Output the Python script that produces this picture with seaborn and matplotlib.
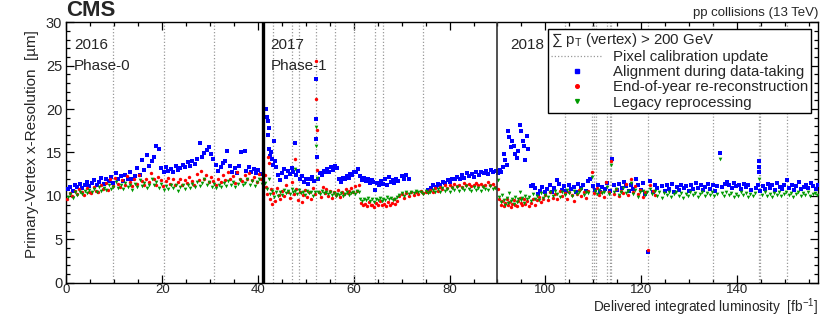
import matplotlib
matplotlib.use("Agg")
import matplotlib.pyplot as plt
from matplotlib.lines import Line2D
from matplotlib.ticker import MultipleLocator
import pandas as pd
import seaborn as sns

# resolution vs. delivered lumi, (fb^-1, um)
align_2016 = [(0.3, 10.8), (0.8, 11.0), (1.3, 10.6), (1.8, 11.2), (2.3, 11.0), (2.8, 11.4), (3.3, 10.9), (3.8, 11.3),
              (4.3, 11.6), (4.8, 11.1), (5.3, 11.5), (5.8, 11.8), (6.3, 11.3), (6.8, 11.6), (7.3, 12.1), (7.8, 11.4),
              (8.3, 11.9), (8.8, 11.7), (9.3, 12.2), (9.8, 11.5), (10.3, 12.6), (10.8, 11.9), (11.3, 12.3), (11.8, 11.7),
              (12.3, 12.4), (12.8, 12.0), (13.3, 12.8), (13.8, 11.9), (14.3, 12.3), (14.8, 13.2), (15.3, 12.4), (15.8, 14.1),
              (16.3, 13.0), (16.8, 14.7), (17.3, 13.4), (17.8, 14.0), (18.3, 14.5), (18.8, 15.7), (19.3, 15.4), (19.8, 13.2),
              (20.3, 12.8), (20.8, 13.3), (21.3, 12.9), (21.8, 13.1), (22.3, 12.7), (22.8, 13.4), (23.3, 13.0), (23.8, 13.2),
              (24.3, 13.6), (24.8, 13.3), (25.3, 13.9), (25.8, 13.5), (26.3, 14.0), (26.8, 13.7), (27.3, 14.3), (27.8, 16.1),
              (28.3, 14.5), (28.8, 14.9), (29.3, 15.3), (29.7, 15.6), (30.2, 14.8), (30.7, 14.2), (31.2, 13.6), (31.7, 12.9),
              (32.2, 13.3), (32.7, 13.8), (33.2, 14.0), (33.6, 15.2), (34.1, 13.5), (34.6, 12.8), (35.1, 13.2), (35.6, 12.6),
              (36.1, 13.4), (36.4, 15.0), (37.2, 15.2), (37.6, 12.9), (38.1, 13.3), (38.6, 12.7), (39.1, 13.1), (39.6, 12.6),
              (40.1, 13.0), (40.6, 12.5)]
align_2017 = [(41.6, 20.0), (41.8, 19.1), (42.0, 18.6), (42.2, 17.8), (42.1, 17.0), (42.4, 15.4), (42.6, 14.6), (42.8, 15.0),
              (43.0, 14.2), (43.2, 13.6), (43.4, 16.3), (43.6, 14.0), (43.8, 13.3), (44.2, 12.4), (44.6, 11.8), (45.0, 12.6),
              (45.4, 13.1), (45.8, 12.2), (46.2, 12.9), (46.6, 12.5), (47.0, 13.2), (47.4, 12.7), (47.7, 16.1), (48.0, 12.4),
              (48.4, 12.9), (48.8, 11.9), (49.2, 12.3), (49.6, 11.6), (50.0, 12.0), (50.4, 11.4), (50.8, 11.9), (51.2, 12.2),
              (51.6, 11.7), (52.2, 23.4), (52.2, 18.9), (52.2, 16.6), (52.3, 14.5), (52.5, 12.0), (52.9, 12.6), (53.3, 12.4),
              (53.7, 12.9), (54.1, 12.7), (54.5, 13.1), (54.9, 12.8), (55.3, 13.3), (55.7, 13.0), (56.1, 13.5), (56.5, 13.2),
              (56.9, 12.0), (57.3, 11.6), (57.7, 12.1), (58.1, 11.9), (58.5, 12.3), (58.9, 12.1), (59.3, 12.5), (59.7, 12.4),
              (60.1, 12.8), (60.5, 12.7), (60.9, 13.1), (61.3, 12.3), (61.7, 11.8), (62.1, 12.1), (62.5, 11.7), (62.9, 11.9),
              (63.3, 11.5), (63.7, 11.8), (64.1, 11.6), (64.5, 10.7), (64.9, 11.5), (65.3, 11.2), (65.7, 11.7), (66.1, 11.4),
              (66.5, 11.9), (66.9, 11.3), (67.3, 12.2), (67.7, 11.6), (68.1, 11.8), (68.5, 11.5), (68.9, 12.0), (69.3, 11.7),
              (70.0, 12.3), (70.5, 11.9), (71.0, 12.4), (71.5, 12.0), (75.6, 10.7), (76.1, 10.9), (76.6, 11.2), (77.1, 11.0),
              (77.6, 11.4), (78.1, 11.3), (78.6, 11.6), (79.1, 11.5), (79.6, 11.8), (80.1, 11.6), (80.6, 12.0), (81.1, 11.9),
              (81.6, 12.2), (82.1, 12.0), (82.6, 12.4), (83.1, 12.1), (83.6, 12.6), (84.1, 12.3), (84.6, 12.5), (85.1, 12.2),
              (85.6, 12.7), (86.1, 12.4), (86.6, 12.8), (87.1, 12.6), (87.6, 12.9), (88.1, 12.5), (88.6, 13.0), (89.1, 12.7),
              (89.6, 12.9)]
align_2018 = [(90.2, 12.6), (90.5, 13.0), (90.8, 12.8), (91.1, 13.3), (91.3, 14.8), (91.6, 14.1), (92.0, 13.6), (92.3, 17.5),
              (92.5, 16.8), (92.8, 15.6), (93.1, 16.3), (93.4, 15.7), (93.7, 14.8), (94.0, 14.4), (94.3, 15.2), (94.8, 18.2),
              (95.0, 17.5), (95.3, 16.3), (95.6, 15.7), (95.8, 14.1), (96.1, 16.9), (96.4, 15.4), (96.9, 11.1), (97.4, 11.3),
              (97.9, 10.9), (98.4, 10.2), (98.9, 10.6), (99.4, 11.0), (99.9, 10.4), (100.4, 10.8), (100.9, 11.2), (101.4, 10.5),
              (101.9, 10.9), (102.4, 11.8), (102.9, 11.4), (103.4, 10.7), (103.9, 11.1), (104.4, 10.6), (104.9, 11.3),
              (105.4, 10.8), (105.9, 11.0), (106.4, 10.5), (106.9, 11.4), (107.4, 10.9), (107.9, 11.2), (108.4, 10.6),
              (108.9, 11.7), (109.4, 12.0), (109.9, 11.1), (110.4, 10.7), (110.9, 11.3), (111.4, 10.5), (111.9, 11.0),
              (112.4, 10.8), (112.9, 11.5), (113.4, 10.6), (113.9, 14.3), (114.4, 11.2), (114.9, 10.7), (115.4, 11.4),
              (115.9, 10.9), (116.4, 11.6), (116.9, 11.1), (117.4, 10.6), (117.9, 11.3), (118.4, 10.8), (118.9, 11.9),
              (119.4, 11.2), (119.9, 10.7), (120.4, 11.5), (120.9, 10.2), (121.5, 3.5), (121.9, 11.7), (122.4, 10.5),
              (122.9, 11.3), (123.4, 10.9), (124.4, 11.1), (124.9, 10.6), (125.4, 11.2), (125.9, 10.8), (126.4, 11.4),
              (126.9, 10.5), (127.4, 11.0), (127.9, 10.7), (128.4, 11.3), (128.9, 10.9), (129.4, 11.1), (129.9, 10.6),
              (130.4, 11.2), (130.9, 10.8), (131.4, 11.5), (131.9, 10.9), (132.4, 11.3), (132.9, 10.7), (133.4, 11.0),
              (133.9, 11.4), (134.4, 10.8), (134.9, 11.2), (135.4, 10.6), (135.9, 11.1), (136.5, 14.9), (136.9, 11.0),
              (137.4, 11.4), (137.9, 11.6), (138.4, 11.2), (138.9, 10.9), (139.4, 11.5), (139.9, 11.1), (140.4, 11.3),
              (140.9, 10.8), (141.4, 11.4), (141.9, 11.0), (142.4, 11.2), (142.9, 10.7), (143.9, 10.9), (144.4, 11.3),
              (144.6, 14.0), (144.6, 13.3), (144.7, 12.7), (144.9, 10.6), (145.4, 11.1), (145.9, 10.8), (146.4, 11.4),
              (146.9, 10.9), (147.4, 11.2), (147.9, 10.7), (148.4, 11.5), (148.9, 11.0), (149.4, 10.8), (149.9, 11.3),
              (150.4, 11.8), (150.9, 10.9), (151.4, 11.2), (151.9, 10.7), (152.4, 11.1), (152.9, 11.6), (153.4, 10.8),
              (153.9, 11.0), (154.4, 11.3), (154.9, 10.9), (155.4, 11.5), (155.9, 11.1), (156.4, 10.8), (156.9, 11.2)]

eoy_2016 = [(0.2, 9.6), (0.7, 10.3), (1.2, 10.0), (1.7, 10.6), (2.2, 10.2), (2.7, 10.8), (3.2, 10.4), (3.7, 10.1),
            (4.2, 10.9), (4.7, 10.5), (5.2, 10.3), (5.7, 11.0), (6.2, 10.6), (6.7, 10.4), (7.2, 11.2), (7.7, 10.8),
            (8.2, 11.5), (8.7, 10.7), (9.2, 11.9), (9.7, 11.1), (10.2, 12.1), (10.7, 11.4), (11.2, 11.0), (11.7, 11.8),
            (12.2, 11.3), (12.7, 12.3), (13.2, 11.6), (13.7, 11.1), (14.2, 11.9), (14.7, 11.4), (15.2, 12.4), (15.7, 11.7),
            (16.2, 11.2), (16.7, 12.0), (17.2, 11.6), (17.7, 12.6), (18.2, 11.9), (18.7, 11.3), (19.2, 12.2), (19.7, 11.8),
            (20.2, 11.1), (20.7, 11.7), (21.2, 12.1), (21.7, 11.4), (22.2, 11.9), (22.7, 11.2), (23.2, 11.6), (23.7, 12.0),
            (24.2, 11.3), (24.7, 11.8), (25.2, 11.5), (25.7, 12.2), (26.2, 11.7), (26.7, 11.2), (27.2, 12.5), (27.7, 11.8),
            (28.2, 12.9), (28.7, 11.9), (29.2, 12.4), (29.7, 11.6), (30.2, 12.2), (30.7, 11.7), (31.2, 11.3), (31.7, 12.0),
            (32.2, 11.6), (32.7, 12.4), (33.2, 11.8), (33.7, 12.7), (34.2, 11.9), (34.7, 12.3), (35.2, 11.5), (35.7, 12.8),
            (36.2, 12.0), (36.7, 11.7), (37.2, 12.4), (37.7, 11.9), (38.2, 12.6), (38.7, 11.8), (39.2, 12.2), (39.7, 11.6),
            (40.2, 12.5), (40.7, 11.9)]
eoy_2017 = [(41.5, 12.4), (41.7, 11.0), (41.9, 10.2), (42.1, 14.5), (42.3, 13.8), (42.5, 9.6), (42.7, 10.8), (42.9, 9.1),
            (43.1, 10.3), (43.5, 9.4), (43.9, 10.9), (44.3, 10.1), (44.7, 9.7), (45.1, 10.6), (45.5, 10.0), (45.9, 11.2),
            (46.3, 10.4), (46.7, 9.8), (47.1, 11.6), (47.5, 10.2), (47.7, 14.3), (47.9, 10.8), (48.3, 9.5), (48.7, 10.5),
            (49.1, 9.3), (49.5, 10.1), (49.9, 10.7), (50.3, 9.9), (50.7, 10.4), (51.1, 9.7), (51.5, 10.9), (51.9, 10.2),
            (52.2, 25.5), (52.2, 21.2), (52.3, 17.6), (52.4, 13.0), (52.7, 10.5), (53.1, 9.9), (53.5, 11.0), (53.9, 10.3),
            (54.3, 10.8), (54.7, 10.0), (55.1, 10.6), (55.5, 9.8), (55.9, 10.4), (56.3, 10.1), (56.7, 10.7), (57.1, 9.9),
            (57.5, 10.5), (57.9, 10.2), (58.3, 10.8), (58.7, 10.3), (59.1, 10.6), (59.5, 10.9), (59.9, 10.4), (60.3, 11.1),
            (60.7, 10.6), (61.1, 11.3), (61.5, 9.2), (61.9, 8.9), (62.3, 9.1), (62.7, 8.8), (63.1, 9.3), (63.5, 8.9),
            (63.9, 9.0), (64.3, 8.7), (64.7, 9.2), (65.1, 8.9), (65.5, 9.4), (65.9, 9.0), (66.3, 9.1), (66.7, 8.8),
            (67.1, 9.3), (67.5, 9.0), (67.9, 9.2), (68.3, 9.6), (68.7, 9.1), (69.1, 9.4), (69.5, 10.0), (70.0, 10.2),
            (70.5, 9.8), (71.0, 10.3), (71.5, 10.0), (72.0, 10.4), (72.5, 10.1), (73.0, 10.5), (73.5, 10.2), (74.0, 10.6),
            (74.5, 10.3), (75.0, 10.5), (75.5, 10.4), (76.0, 10.7), (76.5, 10.5), (77.0, 10.9), (77.5, 10.6), (78.0, 11.0),
            (78.5, 10.8), (79.0, 11.2), (79.5, 10.9), (80.0, 11.3), (80.5, 11.0), (81.0, 11.4), (81.5, 11.1), (82.0, 11.3),
            (82.5, 11.0), (83.0, 11.5), (83.5, 11.2), (84.0, 11.4), (84.5, 11.1), (85.0, 11.3), (85.5, 11.5), (86.0, 11.2),
            (86.5, 11.4), (87.0, 11.1), (87.5, 11.3), (88.0, 11.6), (88.5, 11.2), (89.0, 11.4), (89.5, 11.0)]
eoy_2018 = [(90.1, 10.8), (90.4, 9.6), (90.7, 9.0), (91.0, 9.4), (91.3, 8.8), (91.6, 9.2), (91.9, 9.7), (92.2, 8.9),
            (92.5, 9.3), (92.8, 8.7), (93.1, 9.1), (93.4, 9.5), (93.7, 9.0), (94.0, 8.8), (94.3, 9.4), (94.6, 9.8),
            (94.9, 9.2), (95.2, 8.9), (95.5, 9.6), (95.8, 9.1), (96.2, 9.4), (96.6, 8.8), (97.0, 9.2), (97.4, 9.6),
            (97.8, 9.0), (98.2, 9.5), (98.6, 9.9), (99.0, 9.3), (99.5, 9.7), (100.0, 10.1), (100.5, 9.5), (101.0, 10.4),
            (101.5, 9.8), (102.0, 10.2), (102.5, 9.6), (103.0, 10.6), (103.5, 10.0), (104.0, 10.3), (104.5, 9.7),
            (105.0, 10.5), (105.5, 10.1), (106.0, 9.4), (106.5, 10.2), (107.0, 10.7), (107.5, 10.0), (108.0, 10.4),
            (108.5, 9.8), (109.0, 10.6), (109.8, 12.8), (110.2, 10.3), (110.7, 10.9), (111.2, 10.1), (111.7, 10.5),
            (112.2, 9.9), (112.7, 11.6), (113.2, 10.4), (113.8, 14.0), (114.3, 10.2), (114.8, 10.8), (115.3, 10.0),
            (115.8, 10.6), (116.3, 10.3), (116.8, 11.4), (117.3, 10.1), (117.8, 12.0), (118.3, 10.5), (118.8, 11.1),
            (119.3, 10.2), (119.8, 10.7), (120.3, 9.9), (120.8, 10.4), (121.5, 3.8), (121.9, 11.3), (122.4, 10.6),
            (122.9, 10.1)]

legacy_2016 = [(0.3, 9.9), (0.8, 10.2), (1.3, 9.8), (1.8, 10.4), (2.3, 10.1), (2.8, 10.5), (3.3, 10.2), (3.8, 10.6),
               (4.3, 10.3), (4.8, 10.7), (5.3, 10.4), (5.8, 10.8), (6.3, 10.5), (6.8, 11.0), (7.3, 10.6), (7.8, 10.9),
               (8.3, 10.7), (8.8, 11.3), (9.3, 10.8), (9.8, 11.0), (10.3, 11.6), (10.8, 10.9), (11.3, 11.3), (11.8, 10.8),
               (12.3, 11.5), (12.8, 11.0), (13.3, 11.2), (13.8, 10.7), (14.3, 11.4), (14.8, 11.0), (15.3, 11.8), (15.8, 11.1),
               (16.3, 11.5), (16.8, 10.9), (17.3, 11.3), (17.8, 12.0), (18.3, 11.2), (18.8, 11.6), (19.3, 10.9), (19.8, 11.4),
               (20.3, 10.7), (20.8, 11.1), (21.3, 10.8), (21.8, 11.3), (22.3, 10.9), (22.8, 11.2), (23.3, 10.6), (23.8, 11.0),
               (24.3, 11.3), (24.8, 10.8), (25.3, 11.2), (25.8, 10.9), (26.3, 11.4), (26.8, 11.0), (27.3, 11.6), (27.8, 11.1),
               (28.3, 11.5), (28.8, 11.9), (29.3, 11.2), (29.8, 11.6), (30.3, 11.0), (30.8, 11.4), (31.3, 10.9), (31.8, 11.3),
               (32.3, 11.0), (32.8, 11.5), (33.3, 11.1), (33.8, 11.7), (34.3, 11.2), (34.8, 11.6), (35.3, 11.0), (35.8, 11.4),
               (36.3, 11.8), (36.8, 11.2), (37.3, 11.5), (37.8, 11.9), (38.3, 11.3), (38.8, 11.7), (39.3, 11.1), (39.8, 11.6),
               (40.3, 11.9), (40.8, 11.4)]
legacy_2017 = [(41.5, 11.5), (41.8, 10.8), (42.2, 11.9), (42.6, 10.2), (43.0, 10.6), (43.4, 9.9), (43.8, 10.4), (44.2, 10.0),
               (44.6, 10.5), (45.0, 10.1), (45.4, 10.7), (45.8, 10.3), (46.2, 10.6), (46.6, 10.2), (47.0, 10.8), (47.4, 10.4),
               (47.7, 13.1), (47.8, 10.6), (48.2, 10.2), (48.6, 10.7), (49.0, 10.3), (49.4, 10.5), (49.8, 10.1), (50.2, 10.6),
               (50.6, 10.3), (51.0, 10.4), (51.4, 10.0), (51.8, 10.5), (52.2, 17.9), (52.2, 15.8), (52.3, 12.1), (52.6, 10.4),
               (53.0, 10.2), (53.4, 10.6), (53.8, 10.3), (54.2, 10.5), (54.6, 10.2), (55.0, 10.4), (55.4, 10.1), (55.8, 10.3),
               (56.2, 10.0), (56.6, 10.2), (57.0, 10.1), (57.4, 10.3), (57.8, 10.0), (58.2, 10.2), (58.6, 10.4), (59.0, 10.1),
               (59.4, 10.3), (59.8, 10.5), (60.2, 10.2), (60.6, 10.6), (61.0, 10.4), (61.4, 9.6), (61.8, 9.4), (62.2, 9.7),
               (62.6, 9.5), (63.0, 9.8), (63.4, 9.4), (63.8, 9.6), (64.2, 9.3), (64.6, 9.7), (65.0, 9.5), (65.4, 9.8),
               (65.8, 9.4), (66.2, 9.6), (66.6, 9.5), (67.0, 9.9), (67.4, 9.6), (67.8, 9.8), (68.2, 9.5), (68.6, 9.7),
               (69.0, 9.9), (69.5, 10.1), (70.0, 10.3), (70.5, 10.0), (71.0, 10.4), (71.5, 10.2), (72.0, 10.5), (72.5, 10.3),
               (73.0, 10.6), (73.5, 10.4), (74.0, 10.5), (74.5, 10.2), (75.0, 10.6), (75.5, 10.3), (76.0, 10.5), (76.5, 10.7),
               (77.0, 10.4), (77.5, 10.8), (78.0, 10.5), (78.5, 10.9), (79.0, 10.6), (79.5, 10.8), (80.0, 10.5), (80.5, 10.9),
               (81.0, 10.7), (81.5, 11.0), (82.0, 10.6), (82.5, 10.9), (83.0, 10.7), (83.5, 11.1), (84.0, 10.8), (84.5, 10.6),
               (85.0, 11.0), (85.5, 10.7), (86.0, 10.9), (86.5, 10.6), (87.0, 11.0), (87.5, 10.8), (88.0, 10.7), (88.5, 11.1),
               (89.0, 10.8), (89.5, 10.9)]
legacy_2018 = [(90.1, 11.8), (90.4, 9.9), (90.7, 9.3), (91.0, 10.1), (91.3, 9.5), (91.6, 9.0), (91.9, 9.8), (92.2, 9.2),
               (92.5, 10.3), (92.8, 9.4), (93.1, 9.7), (93.4, 9.1), (93.7, 9.9), (94.0, 9.3), (94.3, 9.6), (94.6, 10.4),
               (94.9, 9.5), (95.2, 9.8), (95.5, 9.2), (95.8, 10.0), (96.2, 9.6), (96.6, 9.9), (97.0, 9.4), (97.4, 10.2),
               (97.8, 9.7), (98.2, 10.0), (98.6, 9.5), (99.0, 10.3), (99.5, 9.8), (100.0, 10.1), (100.5, 9.9), (101.0, 10.4),
               (101.5, 10.0), (102.0, 10.6), (102.5, 10.2), (103.0, 9.9), (103.5, 10.5), (104.0, 10.1), (104.5, 10.7),
               (105.0, 10.3), (105.5, 10.0), (106.0, 10.6), (106.5, 10.2), (107.0, 10.4), (107.5, 10.8), (108.0, 10.1),
               (108.5, 10.5), (109.0, 10.3), (109.8, 12.2), (110.3, 10.6), (110.8, 10.2), (111.3, 10.7), (111.8, 10.3),
               (112.3, 10.5), (112.8, 11.0), (113.3, 10.2), (113.8, 13.6), (114.3, 10.4), (114.8, 10.8), (115.3, 10.1),
               (115.8, 10.5), (116.3, 10.9), (116.8, 10.3), (117.3, 10.6), (117.8, 11.5), (118.3, 10.2), (118.8, 10.7),
               (119.3, 9.9), (119.8, 10.4), (120.3, 10.6), (120.8, 10.1), (121.3, 10.5), (121.8, 10.8), (122.3, 10.2),
               (122.8, 10.6), (123.3, 10.0), (123.8, 10.4), (124.3, 9.8), (124.8, 10.3), (125.3, 10.1), (125.8, 10.5),
               (126.3, 9.9), (126.8, 10.2), (127.3, 10.4), (127.8, 10.0), (128.3, 10.3), (128.8, 9.8), (129.3, 10.2),
               (129.8, 10.0), (130.3, 10.4), (130.8, 10.1), (131.3, 10.3), (131.8, 9.9), (132.3, 10.2), (132.8, 10.5),
               (133.3, 10.0), (133.8, 10.3), (134.3, 10.1), (134.8, 10.4), (135.3, 10.0), (135.8, 10.2), (136.5, 14.3),
               (136.8, 10.3), (137.3, 10.0), (137.8, 10.4), (138.3, 10.1), (138.8, 10.3), (139.3, 9.9), (139.8, 10.2),
               (140.3, 10.0), (140.8, 10.4), (141.3, 10.1), (141.8, 10.3), (142.3, 9.9), (142.8, 10.2), (143.3, 10.0),
               (143.8, 10.3), (144.7, 11.9), (145.3, 10.1), (145.8, 10.4), (146.3, 10.0), (146.8, 10.2), (147.3, 9.9),
               (147.8, 10.3), (148.3, 10.1), (148.8, 10.4), (149.3, 10.0), (149.8, 10.2), (150.3, 10.5), (150.8, 10.1),
               (151.3, 10.3), (151.8, 9.9), (152.3, 10.2), (152.8, 10.4), (153.3, 10.0), (153.8, 10.3), (154.3, 10.1),
               (154.8, 10.4), (155.3, 10.0), (155.8, 10.2), (156.3, 10.3), (156.8, 10.1)]

pixel_calib = [9.8, 20.3, 30.9, 43.2, 47.2, 48.6, 52.2, 56.0, 60.1, 64.5, 66.2, 74.5,
               104.0, 109.8, 110.2, 110.6, 112.9, 113.4, 113.8, 121.5, 134.9, 144.5, 144.9, 150.5]
year_bounds = [41.0, 90.0]
year_labels = [("2016", "Phase-0", 1.6), ("2017", "Phase-1", 42.6), ("2018", "", 92.6)]


def to_df(points):
    return pd.DataFrame(points, columns=["lumi", "res"])


align = to_df(align_2016 + align_2017 + align_2018)
eoy = to_df(eoy_2016 + eoy_2017 + eoy_2018)
legacy = to_df(legacy_2016 + legacy_2017 + legacy_2018)

sns.set_style("ticks")
plt.rcParams["font.family"] = ["Liberation Sans", "DejaVu Sans"]
plt.rcParams["mathtext.fontset"] = "custom"
plt.rcParams["mathtext.rm"] = "Liberation Sans"
plt.rcParams["mathtext.it"] = "Liberation Sans:italic"

fs = 10
fig = plt.figure(figsize=(8.30, 3.21), dpi=100)
ax = fig.add_axes([0.080, 0.119, 0.906, 0.812])

for x in pixel_calib:
    ax.axvline(x, color="#9a9a9a", lw=0.9, ls=(0, (1, 1.6)), zorder=1)
ax.axvline(year_bounds[0], color="black", lw=2.4, zorder=4)
ax.axvline(year_bounds[1], color="#333333", lw=1.2, zorder=4)

blue, red, green = "#0000ff", "#ff0000", "#009a00"
sns.scatterplot(data=align, x="lumi", y="res", ax=ax, color=blue, marker="s", s=5, linewidth=0, zorder=3)
sns.scatterplot(data=eoy, x="lumi", y="res", ax=ax, color=red, marker="o", s=6, linewidth=0, zorder=3)
sns.scatterplot(data=legacy, x="lumi", y="res", ax=ax, color=green, marker="v", s=7, linewidth=0, zorder=3)

ax.set_xlim(0, 157)
ax.set_ylim(0, 30)
ax.xaxis.set_major_locator(MultipleLocator(20))
ax.xaxis.set_minor_locator(MultipleLocator(5))
ax.yaxis.set_major_locator(MultipleLocator(5))
ax.yaxis.set_minor_locator(MultipleLocator(1))
ax.tick_params(which="both", direction="in", top=True, right=True, labelsize=fs + 0.5, width=0.9, color="black")
ax.tick_params(which="major", length=6)
ax.tick_params(which="minor", length=3)
ax.tick_params(axis="x", pad=1, labelsize=9.5)
ax.tick_params(axis="y", pad=3)
for sp in ax.spines.values():
    sp.set_linewidth(1.0)
    sp.set_color("black")

ax.set_xlabel("")
fig.text(0.986, 0.008, r"Delivered integrated luminosity  [fb$^{-1}$]", fontsize=9.8, ha="right", va="bottom")
ax.set_ylabel("Primary-Vertex x-Resolution  [µm]", loc="top", fontsize=11, labelpad=5)
ax.yaxis.label.set_y(0.97)

for year, phase, xpos in year_labels:
    ax.text(xpos, 27.4, year, fontsize=11, va="center")
    if phase:
        ax.text(xpos, 25.0, phase, fontsize=11, va="center")

fig.text(0.080, 0.935, "CMS", fontsize=16, fontweight="bold", ha="left", va="bottom")
fig.text(0.986, 0.940, "pp collisions (13 TeV)", fontsize=9.5, ha="right", va="bottom")

handles = [
    Line2D([], [], color="#9a9a9a", lw=0.9, ls=(0, (1, 1.6))),
    Line2D([], [], color=blue, marker="s", ms=2.4, lw=0),
    Line2D([], [], color=red, marker="o", ms=2.6, lw=0),
    Line2D([], [], color=green, marker="v", ms=2.8, lw=0),
]
labels = ["Pixel calibration update", "Alignment during data-taking",
          "End-of-year re-reconstruction", "Legacy reprocessing"]
leg = ax.legend(handles, labels, title=r"∑ p$_{\mathrm{T}}$ (vertex) > 200 GeV", alignment="left",
                loc="upper left", bbox_to_anchor=(0.641, 0.975), fontsize=10.8, title_fontsize=10.8,
                frameon=True, fancybox=False, framealpha=1, edgecolor="black", borderpad=0.2,
                labelspacing=0.08, handlelength=3.4, handletextpad=0.7, borderaxespad=0)
leg.get_frame().set_linewidth(1.0)
leg.set_zorder(6)

fig.savefig("out.png", dpi=100)
